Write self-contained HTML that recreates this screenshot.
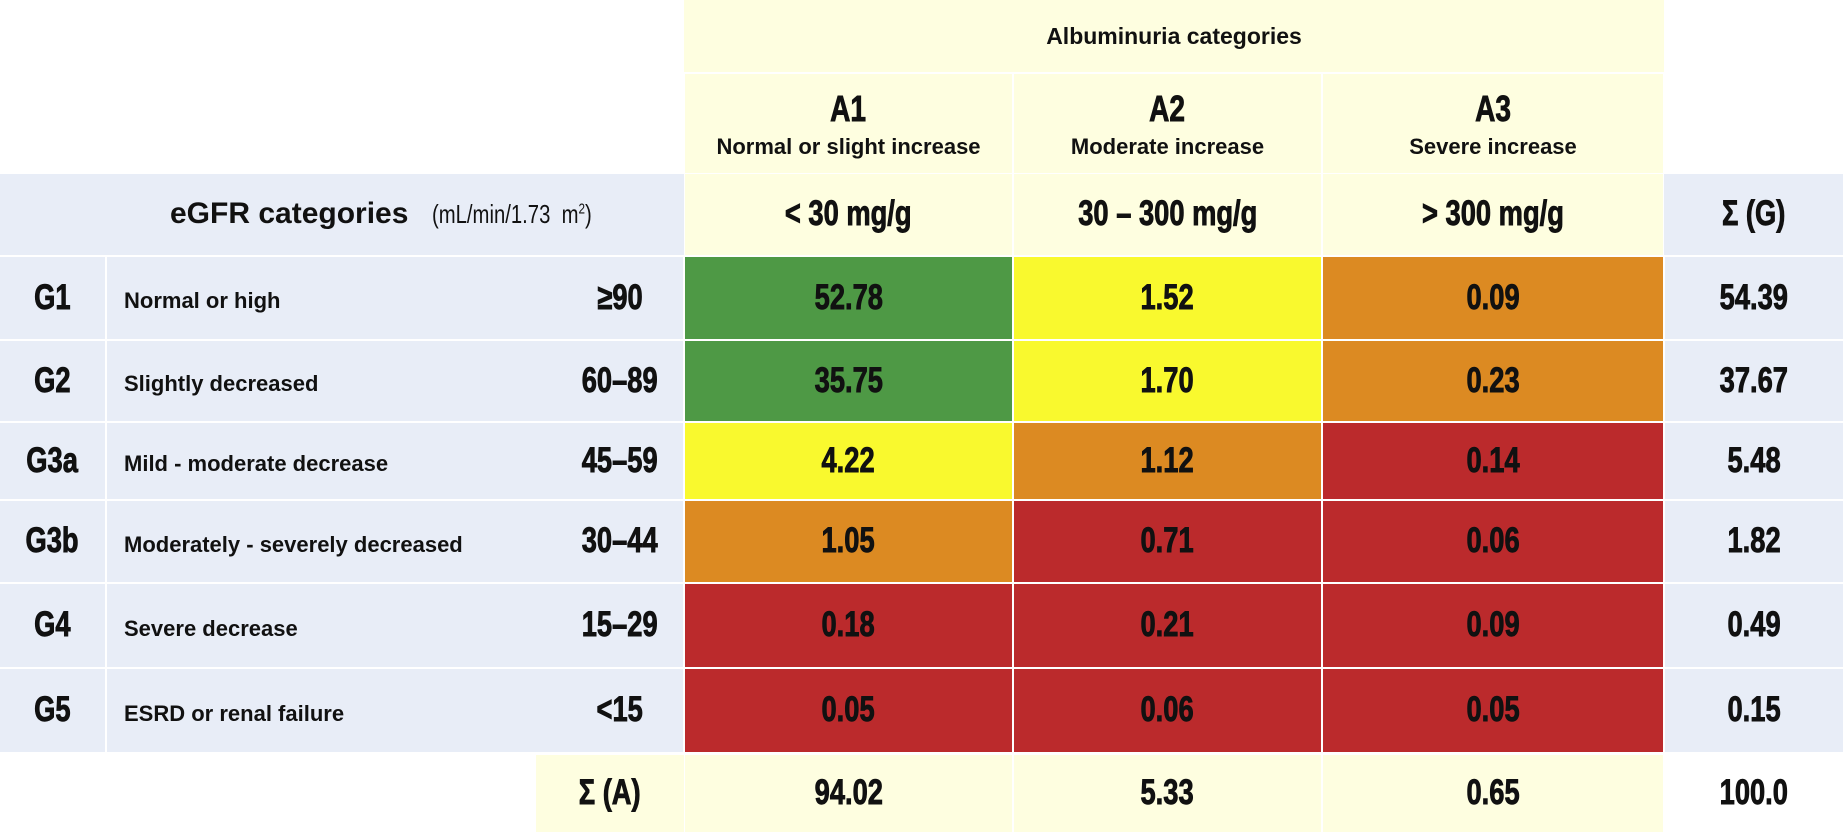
<!DOCTYPE html>
<html><head><meta charset="utf-8"><style>
html,body{margin:0;padding:0;background:#fff;}
#root{position:relative;width:1843px;height:836px;overflow:hidden;font-family:"Liberation Sans",Arial,sans-serif;font-weight:bold;color:#111;}
.c{position:absolute;display:flex;align-items:center;justify-content:center;box-sizing:border-box;text-align:center;line-height:1.15;}
.n{font-size:35px;}
.n span,.sq{display:inline-block;transform:scaleX(0.78);white-space:nowrap;-webkit-text-stroke:0.9px #111;}
.cream{background:#fefee0;}
.blue{background:#e8edf7;}
</style></head><body>
<div id="root">
  <div class="c cream" style="left:684px;top:0;width:980px;height:72px;font-size:23px;">Albuminuria categories</div>
  <div class="c blue" style="left:0;top:174px;width:684px;height:81px;justify-content:flex-start;"><span style="margin-left:170px;font-size:30px;">eGFR categories</span><span style="margin-left:24px;display:inline-block;font-weight:normal;font-size:26px;transform-origin:left center;transform:scaleX(0.78);white-space:nowrap;">(mL/min/1.73&nbsp; m<sup style="font-size:15px">2</sup>)</span></div>
  <div class="c blue n" style="left:1664px;top:174px;width:179px;height:81px;"><span>Σ (G)</span></div>
  <div class="c cream n" style="left:536px;top:755px;width:148px;height:77px;"><span>Σ (A)</span></div>
  <div class="c n" style="left:1664px;top:755px;width:179px;height:77px;"><span>100.0</span></div>
</div>
<script>
const aCodes=["A1","A2","A3"];
const aDescs=["Normal or slight increase","Moderate increase","Severe increase"];
const aRanges=["< 30 mg/g","30 – 300 mg/g","> 300 mg/g"];
const gCodes=["G1","G2","G3a","G3b","G4","G5"];
const gDescs=["Normal or high","Slightly decreased","Mild - moderate decrease","Moderately - severely decreased","Severe decrease","ESRD or renal failure"];
const gRanges=["≥90","60–89","45–59","30–44","15–29","<15"];
const cellValues=[[52.78,1.52,0.09],[35.75,1.70,0.23],[4.22,1.12,0.14],[1.05,0.71,0.06],[0.18,0.21,0.09],[0.05,0.06,0.05]];
const riskLevels=[[0,1,2],[0,1,2],[1,2,3],[2,3,3],[3,3,3],[3,3,3]];
const rowSums=["54.39","37.67","5.48","1.82","0.49","0.15"];
const colSums=["94.02","5.33","0.65"];

const root=document.getElementById('root');
const colX=[684,1013,1322,1664];
const rowY=[256,340,422,500,583,668,753];
const riskColors=["#4e9945","#f9f92e","#dc8a22","#bb2a2c"];
function mk(cls,l,t,w,h,txt,extra){const d=document.createElement('div');d.className='c '+cls;d.style.left=l+'px';d.style.top=t+'px';d.style.width=w+'px';d.style.height=h+'px';if(extra)d.style.cssText+=extra;
  if(cls.indexOf('n')>=0&&txt!==''){const s=document.createElement('span');s.textContent=txt;d.appendChild(s);}else d.textContent=txt;
  root.appendChild(d);return d;}
aCodes.forEach((a,j)=>{
  const x=colX[j]+1,w=colX[j+1]-colX[j]-2;
  const h=mk('cream',x,74,w,99,'','flex-direction:column;');
  
  
  const s1=document.createElement('span');s1.textContent=a;s1.className='sq';s1.style.cssText+='font-size:36px;margin-bottom:4px;';h.appendChild(s1);
  const s2=document.createElement('span');s2.textContent=aDescs[j];s2.style.fontSize='22px';h.appendChild(s2);
  const r=mk('cream n',x,174,w,81,aRanges[j]);
  
  
  const s=mk('cream n',x,755,w,77,colSums[j]);
  
  
});
gCodes.forEach((g,i)=>{
  const y=rowY[i]+1,h=rowY[i+1]-rowY[i]-2;
  const c=mk('blue n',0,y,105,h,g);
  
  
  const d=mk('blue',107,y,450,h,gDescs[i],'justify-content:flex-start;padding-left:17px;font-size:22px;padding-top:6px;');
  
  
  const r=mk('blue n',557,y,126,h,gRanges[i]);
  
  
  cellValues[i].forEach((v,j)=>{
    const x=colX[j]+1,w=colX[j+1]-colX[j]-2;
    const cell=mk('n',x,y,w,h,v.toFixed(2),'background:'+riskColors[riskLevels[i][j]]+';');
    
    
  });
  const s=mk('blue n',1665,y,178,h,rowSums[i]);
  
  
});
</script>
</body></html>
